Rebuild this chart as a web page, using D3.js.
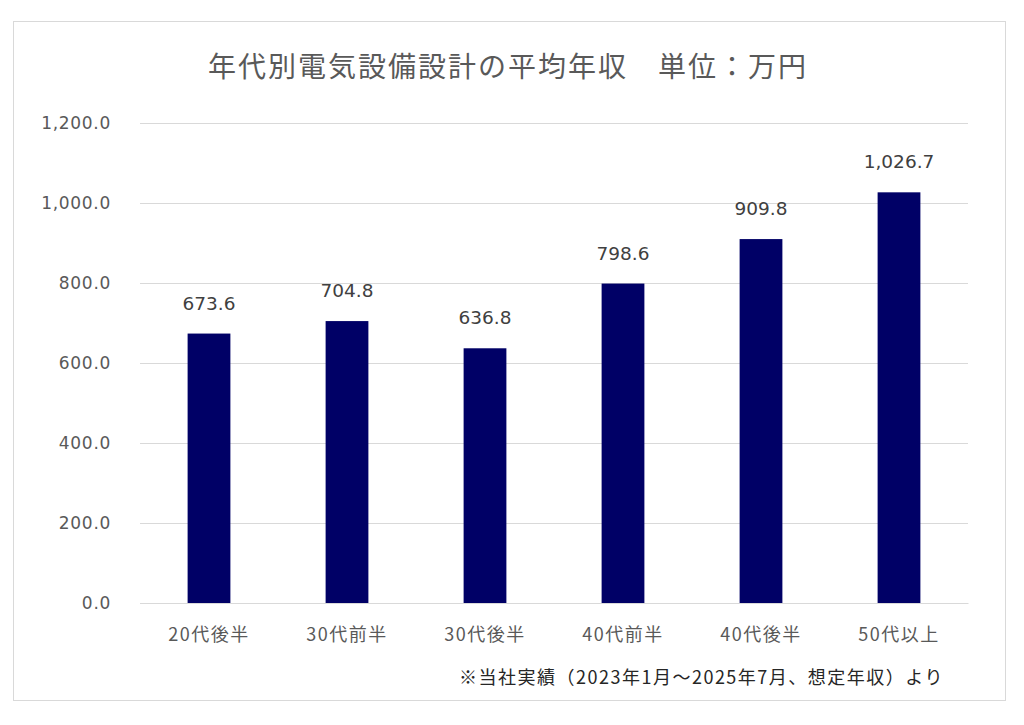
<!DOCTYPE html>
<html><head><meta charset="utf-8">
<script src="https://cdn.jsdelivr.net/npm/d3@7"></script>
<style>body{margin:0;background:#fff}</style>
</head><body><svg id="c" width="1024" height="725"></svg>
<script>
const categories = ["20代後半","30代前半","30代後半","40代前半","40代後半","50代以上"];
const values = [673.6, 704.8, 636.8, 798.6, 909.8, 1026.7];
const yTicks = [0, 200, 400, 600, 800, 1000, 1200];
const title = "年代別電気設備設計の平均年収　単位：万円";
const note = "※当社実績（2023年1月～2025年7月、想定年収）より";

const svg = d3.select("#c");
const jp = "'Noto Sans CJK JP', 'Noto Sans', sans-serif";
const num = "'DejaVu Sans', Verdana, sans-serif";
svg.append("rect").attr("x",13.5).attr("y",21.5).attr("width",992).attr("height",679)
  .attr("fill","#fff").attr("stroke","#d9d9d9").attr("stroke-width",1);

const L=140, R=968, T=123, B=603;
const x = d3.scaleBand().domain(categories).range([L,R]).paddingInner(0.69).paddingOuter(0.345);
const y = d3.scaleLinear().domain([0,1200]).range([B,T]);

svg.append("text").attr("x",508).attr("y",77).attr("text-anchor","middle")
  .attr("font-family",jp).attr("font-size",28).attr("letter-spacing",2).attr("fill","#595959").text(title);

const grid = svg.append("g").attr("transform",`translate(${L},0)`)
  .call(d3.axisLeft(y).tickValues(yTicks).tickSize(-(R-L)).tickFormat(d=>d3.format(",.1f")(d)));
grid.select(".domain").remove();
grid.selectAll(".tick line").attr("stroke","#d9d9d9").attr("stroke-width",1);
grid.selectAll(".tick text").attr("x",-29).attr("font-family",num).attr("font-size",17)
  .attr("letter-spacing",0.7).attr("fill","#595959");

svg.selectAll("rect.bar").data(values).join("rect").attr("class","bar")
  .attr("x",(d,i)=>x(categories[i])).attr("width",x.bandwidth())
  .attr("y",d=>y(d)).attr("height",d=>B-y(d)).attr("fill","#000066");

svg.selectAll("text.val").data(values).join("text").attr("class","val")
  .attr("x",(d,i)=>x(categories[i])+x.bandwidth()/2).attr("y",d=>y(d)-24)
  .attr("text-anchor","middle").attr("font-family",num).attr("font-size",18.5).attr("fill","#404040")
  .text(d=>d3.format(",.1f")(d));

const xa = svg.append("g").attr("transform",`translate(0,${B})`)
  .call(d3.axisBottom(x).tickSize(0).tickPadding(25));
xa.select(".domain").attr("stroke","#d9d9d9");
xa.selectAll("text").attr("font-family",jp).attr("font-size",18).attr("letter-spacing",1.5).attr("fill","#595959");

svg.append("text").attr("x",944).attr("y",684).attr("text-anchor","end")
  .attr("font-family",jp).attr("font-size",18).attr("letter-spacing",1.5).attr("fill","#262626").text(note);
</script></body></html>
